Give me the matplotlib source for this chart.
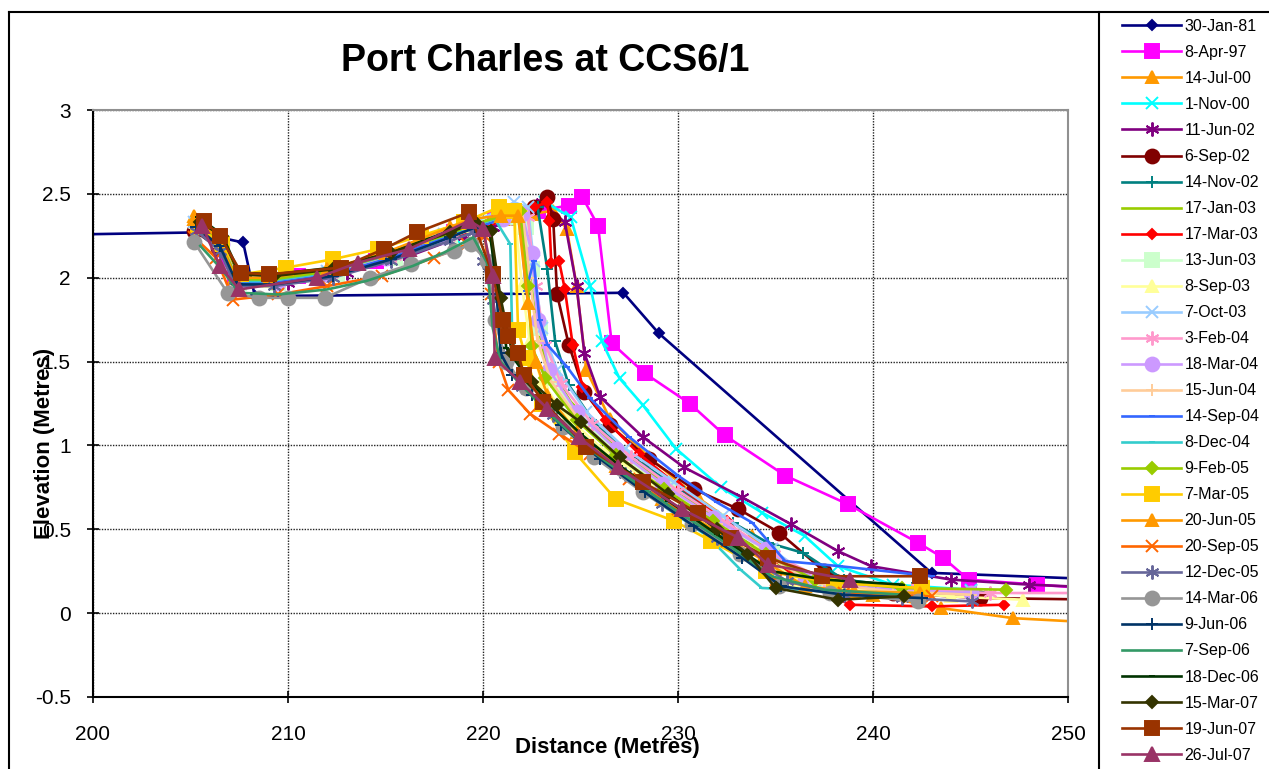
import matplotlib
matplotlib.use("Agg")
import matplotlib.pyplot as plt
from matplotlib.lines import Line2D

plt.rcParams['font.family'] = ['Liberation Sans', 'DejaVu Sans']

# Survey profiles: chainage (m) and elevation (m)
x_30jan81 = [195.0, 205.3, 207.7, 208.3, 227.2, 229.0, 243.0, 252.0]
y_30jan81 = [2.25, 2.27, 2.21, 1.89, 1.91, 1.67, 0.24, 0.20]

x_8apr97 = [205.4, 207.3, 210.5, 214.5, 218.5, 220.6, 222.8, 224.4, 225.1, 225.9, 226.6, 228.3,
            230.6, 232.4, 235.5, 238.7, 242.3, 243.6, 244.9, 248.4, 252.0]
y_8apr97 = [2.31, 1.99, 2.01, 2.10, 2.27, 2.35, 2.40, 2.43, 2.48, 2.31, 1.61, 1.43,
            1.25, 1.06, 0.82, 0.65, 0.42, 0.33, 0.20, 0.17, 0.14]

x_14jul00 = [205.2, 206.4, 207.3, 209.2, 212.0, 215.0, 218.0, 219.6, 221.0, 222.5, 223.6, 224.3,
             224.8, 225.3, 226.5, 228.5, 231.0, 233.8, 236.0, 240.0, 243.5, 247.2, 252.0]
y_14jul00 = [2.37, 2.25, 2.01, 1.98, 2.03, 2.13, 2.26, 2.33, 2.35, 2.38, 2.40, 2.29,
             1.95, 1.45, 1.16, 0.93, 0.69, 0.46, 0.23, 0.11, 0.03, -0.03, -0.06]

x_1nov00 = [205.3, 206.5, 207.4, 209.5, 212.5, 215.5, 218.5, 220.0, 221.5, 223.2, 224.5, 225.5,
            226.1, 227.0, 228.2, 229.9, 232.2, 234.3, 236.5, 238.2, 241.0, 245.0]
y_1nov00 = [2.32, 2.20, 1.95, 1.96, 2.02, 2.12, 2.24, 2.30, 2.38, 2.45, 2.36, 1.95,
            1.62, 1.40, 1.24, 0.98, 0.75, 0.60, 0.46, 0.28, 0.17, 0.14]

x_11jun02 = [205.2, 206.6, 207.5, 210.0, 213.0, 216.0, 219.0, 220.5, 222.0, 223.0, 224.2, 224.8,
             225.2, 226.0, 228.2, 230.3, 233.3, 235.8, 238.2, 239.9, 244.0, 248.0, 252.0]
y_11jun02 = [2.30, 2.18, 1.95, 1.97, 2.03, 2.12, 2.25, 2.30, 2.38, 2.45, 2.33, 1.95,
             1.55, 1.29, 1.05, 0.87, 0.69, 0.53, 0.37, 0.28, 0.20, 0.17, 0.15]

x_6sep02 = [205.2, 206.4, 207.4, 209.5, 212.0, 215.0, 218.0, 219.8, 221.5, 222.6, 223.3, 223.6,
            223.8, 224.4, 225.2, 226.5, 228.5, 230.8, 233.1, 235.2, 237.5, 241.0, 245.5, 252.0]
y_6sep02 = [2.28, 2.18, 1.97, 1.98, 2.02, 2.13, 2.25, 2.30, 2.36, 2.42, 2.48, 2.35,
            1.90, 1.60, 1.32, 1.12, 0.92, 0.74, 0.62, 0.48, 0.25, 0.12, 0.09, 0.08]

x_14nov02 = [205.3, 206.6, 207.5, 209.5, 212.0, 215.0, 218.0, 219.5, 221.0, 222.8, 223.3, 223.7,
             224.4, 225.8, 227.8, 230.3, 232.8, 234.6, 236.4, 238.5, 242.0, 246.0]
y_14nov02 = [2.34, 2.22, 1.99, 1.99, 2.04, 2.14, 2.26, 2.32, 2.36, 2.42, 2.05, 1.62,
             1.36, 1.12, 0.92, 0.72, 0.54, 0.42, 0.36, 0.20, 0.15, 0.12]

x_17jan03 = [205.2, 206.5, 207.4, 209.0, 211.5, 214.0, 217.0, 219.3, 220.4, 221.6, 222.2, 222.6,
             223.2, 224.5, 226.5, 229.0, 231.5, 234.0, 236.0, 240.0, 244.0]
y_17jan03 = [2.35, 2.24, 2.00, 1.99, 2.03, 2.10, 2.22, 2.31, 2.35, 2.42, 2.38, 1.85,
             1.50, 1.26, 1.02, 0.80, 0.60, 0.40, 0.20, 0.14, 0.12]

x_17mar03 = [205.3, 206.5, 207.4, 209.5, 212.5, 215.5, 218.5, 220.0, 221.5, 222.6, 223.3, 223.4,
             223.5, 223.9, 224.2, 224.6, 225.1, 226.3, 228.0, 230.0, 232.5, 234.8, 238.8, 243.0, 246.7]
y_17mar03 = [2.32, 2.20, 1.98, 1.98, 2.03, 2.12, 2.25, 2.30, 2.36, 2.42, 2.45, 2.34,
             2.09, 2.10, 1.93, 1.60, 1.35, 1.15, 0.95, 0.76, 0.55, 0.30, 0.05, 0.04, 0.05]

x_13jun03 = [205.4, 206.6, 207.5, 209.5, 212.5, 215.5, 218.3, 219.7, 221.2, 222.2, 222.5, 222.9,
             223.6, 225.0, 227.0, 229.5, 232.0, 234.8, 237.0, 241.0]
y_13jun03 = [2.30, 2.20, 1.97, 1.97, 2.02, 2.12, 2.24, 2.30, 2.36, 2.30, 2.05, 1.70,
             1.40, 1.15, 0.95, 0.74, 0.55, 0.35, 0.18, 0.13]

x_8sep03 = [205.3, 206.5, 207.4, 209.0, 212.0, 215.0, 218.0, 219.5, 221.0, 221.6, 222.0, 222.4,
            223.0, 224.3, 226.3, 228.8, 231.3, 234.0, 236.0, 240.0, 244.0, 247.7]
y_8sep03 = [2.33, 2.22, 1.99, 1.98, 2.03, 2.13, 2.25, 2.31, 2.37, 2.40, 1.95, 1.62,
            1.38, 1.17, 0.96, 0.76, 0.56, 0.38, 0.20, 0.13, 0.10, 0.08]

x_7oct03 = [205.2, 206.4, 207.3, 209.0, 212.0, 215.0, 218.0, 219.5, 220.8, 221.6, 222.3, 222.6,
            223.0, 223.8, 225.3, 227.3, 229.8, 232.3, 234.8, 237.0, 241.0, 245.0]
y_7oct03 = [2.33, 2.22, 1.99, 1.99, 2.04, 2.14, 2.26, 2.33, 2.40, 2.45, 2.42, 2.10,
            1.70, 1.45, 1.20, 0.98, 0.78, 0.58, 0.38, 0.20, 0.15, 0.13]

x_3feb04 = [205.3, 206.5, 207.4, 209.5, 212.5, 215.5, 218.5, 219.8, 221.3, 222.3, 222.7, 223.2,
            224.0, 225.6, 227.6, 230.0, 232.5, 234.9, 237.5, 242.0, 246.0, 252.0]
y_3feb04 = [2.31, 2.20, 1.98, 1.98, 2.04, 2.13, 2.26, 2.31, 2.38, 2.36, 1.95, 1.60,
            1.37, 1.13, 0.93, 0.73, 0.54, 0.35, 0.20, 0.14, 0.12, 0.12]

x_18mar04 = [205.4, 206.6, 207.5, 209.5, 212.0, 215.0, 218.0, 219.6, 221.0, 222.0, 222.5, 222.8,
             223.4, 224.8, 226.8, 229.2, 231.8, 234.5, 236.5, 240.5, 245.0]
y_18mar04 = [2.30, 2.20, 1.97, 1.97, 2.02, 2.12, 2.24, 2.30, 2.35, 2.38, 2.15, 1.75,
             1.45, 1.20, 0.98, 0.77, 0.57, 0.38, 0.20, 0.14, 0.12]

x_15jun04 = [205.2, 206.4, 207.3, 209.2, 212.2, 215.2, 218.2, 219.6, 221.0, 222.0, 222.4, 222.8,
             223.5, 225.0, 227.0, 229.5, 232.0, 234.6, 237.0, 241.0, 245.0]
y_15jun04 = [2.32, 2.21, 1.98, 1.97, 2.02, 2.12, 2.24, 2.30, 2.36, 2.40, 2.00, 1.62,
             1.38, 1.14, 0.93, 0.72, 0.53, 0.34, 0.18, 0.13, 0.11]

x_14sep04 = [205.3, 206.5, 207.4, 209.3, 212.3, 215.3, 218.3, 219.7, 221.0, 221.9, 222.2, 222.6,
             222.9, 223.3, 224.3, 225.5, 227.5, 230.0, 232.0, 233.8, 235.5, 238.3, 243.0]
y_14sep04 = [2.31, 2.20, 1.97, 1.97, 2.02, 2.12, 2.25, 2.30, 2.35, 2.38, 1.92, 2.10,
             1.75, 1.60, 1.47, 1.28, 1.05, 0.82, 0.66, 0.54, 0.31, 0.28, 0.22]

x_8dec04 = [205.3, 206.5, 207.4, 209.0, 212.0, 215.0, 218.0, 219.5, 220.6, 221.4, 221.5, 222.0,
            223.0, 224.5, 226.5, 229.0, 231.5, 233.2, 234.3, 238.0, 242.0]
y_8dec04 = [2.32, 2.21, 1.98, 1.98, 2.03, 2.13, 2.25, 2.31, 2.35, 2.20, 1.63, 1.45,
            1.28, 1.08, 0.88, 0.66, 0.46, 0.26, 0.15, 0.13, 0.12]

x_9feb05 = [205.3, 206.5, 207.4, 209.2, 212.2, 215.2, 218.2, 219.6, 221.0, 221.9, 222.3, 222.5,
            223.2, 224.8, 226.8, 229.3, 231.8, 234.5, 237.0, 241.5, 246.8]
y_9feb05 = [2.33, 2.22, 1.99, 1.99, 2.04, 2.14, 2.26, 2.32, 2.37, 2.40, 1.95, 1.59,
            1.40, 1.15, 0.94, 0.74, 0.55, 0.35, 0.20, 0.15, 0.14]

x_7mar05 = [205.4, 206.6, 207.6, 209.9, 212.3, 214.6, 216.8, 219.0, 220.8, 221.6, 221.8, 222.2,
            223.0, 224.7, 226.8, 229.8, 231.7, 234.5, 238.0, 242.5]
y_7mar05 = [2.30, 2.20, 2.02, 2.06, 2.11, 2.17, 2.25, 2.33, 2.42, 2.40, 1.69, 1.52,
            1.25, 0.96, 0.68, 0.55, 0.43, 0.25, 0.18, 0.15]

x_20jun05 = [205.2, 206.4, 207.3, 209.0, 212.0, 215.0, 218.3, 219.4, 220.9, 221.8, 222.3, 222.7,
             223.3, 224.8, 226.8, 229.2, 231.8, 234.3, 236.5, 239.0, 242.4]
y_20jun05 = [2.35, 2.24, 2.00, 2.00, 2.05, 2.15, 2.30, 2.35, 2.37, 2.37, 1.85, 1.50,
             1.30, 1.08, 0.88, 0.68, 0.50, 0.32, 0.16, 0.13, 0.12]

x_20sep05 = [205.2, 206.3, 207.2, 209.5, 212.0, 214.8, 217.5, 219.2, 220.1, 220.4, 220.8, 221.3,
             222.4, 223.9, 225.5, 227.5, 230.0, 232.5, 235.0, 238.5, 243.0]
y_20sep05 = [2.24, 2.12, 1.87, 1.90, 1.95, 2.01, 2.12, 2.20, 2.25, 1.90, 1.50, 1.33,
             1.19, 1.07, 0.95, 0.80, 0.62, 0.43, 0.20, 0.12, 0.10]

x_12dec05 = [205.3, 206.5, 207.3, 209.3, 212.3, 215.3, 218.3, 219.5, 220.0, 220.5, 221.0, 222.0,
             223.6, 225.5, 227.3, 229.2, 232.0, 235.6, 238.5, 241.5, 245.1]
y_12dec05 = [2.28, 2.16, 1.95, 1.95, 2.00, 2.10, 2.22, 2.27, 2.10, 1.87, 1.55, 1.35,
             1.18, 0.98, 0.83, 0.65, 0.45, 0.19, 0.11, 0.09, 0.07]

x_14mar06 = [205.2, 206.9, 208.5, 210.0, 211.9, 214.2, 216.3, 218.5, 219.4, 220.2, 220.6, 221.2,
             222.2, 224.1, 225.7, 228.2, 230.7, 233.2, 235.2, 237.8, 242.3]
y_14mar06 = [2.21, 1.91, 1.88, 1.88, 1.88, 2.00, 2.08, 2.16, 2.20, 2.10, 1.75, 1.50,
             1.34, 1.11, 0.93, 0.72, 0.53, 0.35, 0.16, 0.12, 0.07]

x_9jun06 = [205.3, 206.5, 207.4, 209.3, 212.3, 215.3, 218.3, 219.6, 220.4, 220.7, 220.9, 221.5,
            222.5, 224.0, 226.0, 228.3, 230.8, 233.3, 235.3, 238.5, 242.5]
y_9jun06 = [2.30, 2.19, 1.96, 1.96, 2.01, 2.11, 2.24, 2.30, 2.28, 1.90, 1.55, 1.42,
            1.30, 1.12, 0.92, 0.72, 0.52, 0.33, 0.16, 0.11, 0.09]

x_7sep06 = [205.5, 206.6, 207.5, 209.5, 212.0, 214.0, 216.4, 218.0, 219.5, 220.2, 220.5, 220.9,
            221.8, 223.3, 225.2, 227.3, 229.8, 232.3, 234.8, 237.5, 241.5]
y_7sep06 = [2.19, 2.05, 1.91, 1.90, 1.93, 1.98, 2.07, 2.15, 2.24, 2.09, 1.70, 1.50,
            1.38, 1.20, 1.00, 0.82, 0.62, 0.43, 0.22, 0.14, 0.11]

x_18dec06 = [205.4, 206.6, 207.5, 209.3, 212.3, 215.3, 218.3, 219.5, 220.3, 220.8, 221.2, 222.0,
             223.3, 225.0, 227.0, 229.5, 232.0, 234.8, 237.5, 241.5]
y_18dec06 = [2.36, 2.26, 2.03, 2.02, 2.06, 2.15, 2.28, 2.33, 2.30, 1.90, 1.58, 1.45,
             1.26, 1.07, 0.88, 0.67, 0.47, 0.25, 0.20, 0.17]

x_15mar07 = [205.5, 206.6, 207.5, 209.3, 212.3, 215.3, 218.3, 219.6, 220.4, 220.9, 221.5, 222.5,
             223.8, 225.0, 227.0, 229.5, 232.0, 233.6, 235.0, 238.2, 241.6]
y_15mar07 = [2.33, 2.25, 2.02, 2.01, 2.05, 2.15, 2.27, 2.33, 2.28, 1.88, 1.55, 1.38,
             1.24, 1.14, 0.93, 0.71, 0.50, 0.35, 0.15, 0.08, 0.10]

x_19jun07 = [205.7, 206.5, 207.6, 209.0, 212.7, 214.9, 216.6, 219.3, 220.5, 221.0, 221.3, 221.8,
             222.1, 223.1, 225.3, 228.2, 231.0, 232.7, 234.6, 237.4, 242.4]
y_19jun07 = [2.34, 2.25, 2.03, 2.02, 2.06, 2.17, 2.27, 2.39, 2.02, 1.75, 1.65, 1.55,
             1.42, 1.26, 0.99, 0.78, 0.60, 0.45, 0.33, 0.22, 0.22]

x_26jul07 = [205.6, 206.5, 207.5, 211.5, 213.6, 216.2, 219.3, 220.0, 220.5, 220.6, 221.9, 223.3,
             224.9, 226.9, 230.2, 233.1, 234.6, 238.8]
y_26jul07 = [2.31, 2.07, 1.93, 2.00, 2.09, 2.17, 2.34, 2.29, 2.01, 1.52, 1.38, 1.22,
             1.05, 0.87, 0.62, 0.45, 0.29, 0.20]

survey_dates = ["30-Jan-81", "8-Apr-97", "14-Jul-00", "1-Nov-00", "11-Jun-02", "6-Sep-02",
                "14-Nov-02", "17-Jan-03", "17-Mar-03", "13-Jun-03", "8-Sep-03", "7-Oct-03",
                "3-Feb-04", "18-Mar-04", "15-Jun-04", "14-Sep-04", "8-Dec-04", "9-Feb-05",
                "7-Mar-05", "20-Jun-05", "20-Sep-05", "12-Dec-05", "14-Mar-06", "9-Jun-06",
                "7-Sep-06", "18-Dec-06", "15-Mar-07", "19-Jun-07", "26-Jul-07"]

profiles = [
    (x_30jan81, y_30jan81), (x_8apr97, y_8apr97), (x_14jul00, y_14jul00), (x_1nov00, y_1nov00),
    (x_11jun02, y_11jun02), (x_6sep02, y_6sep02), (x_14nov02, y_14nov02), (x_17jan03, y_17jan03),
    (x_17mar03, y_17mar03), (x_13jun03, y_13jun03), (x_8sep03, y_8sep03), (x_7oct03, y_7oct03),
    (x_3feb04, y_3feb04), (x_18mar04, y_18mar04), (x_15jun04, y_15jun04), (x_14sep04, y_14sep04),
    (x_8dec04, y_8dec04), (x_9feb05, y_9feb05), (x_7mar05, y_7mar05), (x_20jun05, y_20jun05),
    (x_20sep05, y_20sep05), (x_12dec05, y_12dec05), (x_14mar06, y_14mar06), (x_9jun06, y_9jun06),
    (x_7sep06, y_7sep06), (x_18dec06, y_18dec06), (x_15mar07, y_15mar07), (x_19jun07, y_19jun07),
    (x_26jul07, y_26jul07),
]

ASTER = (6, 2, 0)
# (colour, marker, marker size) per survey, Excel-ish palette
styles = [
    ("#000080", "D", 5.5), ("#FF00FF", "s", 9.5), ("#FF9900", "^", 9), ("#00FFFF", "x", 8),
    ("#800080", ASTER, 10), ("#800000", "o", 10), ("#008080", "+", 9), ("#99CC00", None, 0),
    ("#FF0000", "D", 5.5), ("#CCFFCC", "s", 9.5), ("#FFFF99", "^", 9), ("#99CCFF", "x", 8),
    ("#FF99CC", ASTER, 10), ("#CC99FF", "o", 10), ("#FFCC99", "+", 9), ("#3366FF", "_", 5),
    ("#33CCCC", "_", 5), ("#99CC00", "D", 6.5), ("#FFCC00", "s", 9.5), ("#FF9900", "^", 9),
    ("#FF6600", "x", 8), ("#666699", ASTER, 10), ("#969696", "o", 10), ("#003366", "+", 9),
    ("#339966", None, 0), ("#003300", "_", 5), ("#333300", "D", 6.5), ("#993300", "s", 9.5),
    ("#993366", "^", 10),
]

W, H = 1269, 769
fig = plt.figure(figsize=(W / 100, H / 100), dpi=100)
ax = fig.add_axes([93 / W, 1 - 697 / H, (1068 - 93) / W, (697 - 110) / H])

handles = []
for (xs, ys), (col, mk, ms), lab in zip(profiles, styles, survey_dates):
    line, = ax.plot(xs, ys, color=col, lw=1.9, marker=mk, markersize=ms,
                    markerfacecolor=col, markeredgecolor=col, markeredgewidth=1.4,
                    label=lab)
    handles.append(line)

ax.set_xlim(200, 250)
ax.set_ylim(-0.5, 3)
ax.set_xticks(range(200, 251, 10))
ax.set_yticks([-0.5, 0, 0.5, 1, 1.5, 2, 2.5, 3])
ax.set_yticklabels(["-0.5", "0", "0.5", "1", "1.5", "2", "2.5", "3"])
ax.grid(True, color="#222222", linestyle=(0, (1, 1)), linewidth=1.0)
ax.set_axisbelow(True)
ax.tick_params(direction="inout", length=8, width=1.2, labelsize=15, colors="black")
ax.tick_params(axis="y", pad=12)
ax.tick_params(axis="x", pad=16)
for side in ("left", "bottom"):
    ax.spines[side].set_color("black")
    ax.spines[side].set_linewidth(1.5)
for side in ("top", "right"):
    ax.spines[side].set_color("#909090")
    ax.spines[side].set_linewidth(1.5)

fig.text(545 / W, 1 - 61 / H, "Port Charles at CCS6/1", ha="center", va="center",
         fontsize=27, fontweight="bold")
fig.text(607 / W, 1 - 748 / H, "Distance (Metres)", ha="center", va="center",
         fontsize=16, fontweight="bold")
fig.text(45 / W, 1 - 443 / H, "Elevation (Metres)", ha="center", va="center",
         rotation=90, fontsize=16, fontweight="bold")

fig.legend(handles=handles, loc="upper left", bbox_to_anchor=(1122 / W, 1 - 19 / H),
           frameon=False, fontsize=11.5, handlelength=3.7, handletextpad=0.2,
           labelspacing=0.69, borderpad=0, borderaxespad=0, numpoints=1)

# chart border and legend box
fig.add_artist(Line2D([9 / W, 9 / W], [0, 1 - 12 / H], transform=fig.transFigure,
                      color="black", lw=1.5))
fig.add_artist(Line2D([9 / W, 1], [1 - 12 / H, 1 - 12 / H], transform=fig.transFigure,
                      color="black", lw=1.5))
fig.add_artist(Line2D([1099 / W, 1099 / W], [0, 1 - 12 / H], transform=fig.transFigure,
                      color="black", lw=1.5))

fig.savefig("out.png", dpi=100)
